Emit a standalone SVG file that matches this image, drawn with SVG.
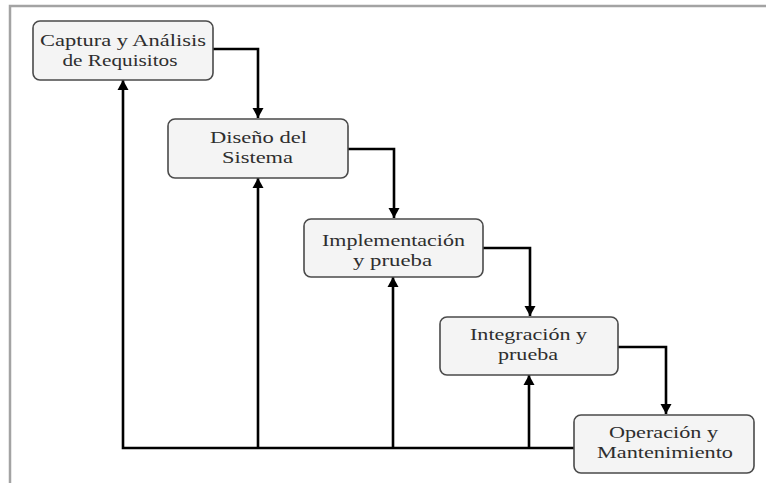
<svg xmlns="http://www.w3.org/2000/svg" width="766" height="483" viewBox="0 0 766 483">
  <style>
    .frame { stroke: #a3a3a3; stroke-width: 2.5; fill: none; }
    .box { fill: #f4f4f4; stroke: #4a4a4a; stroke-width: 1.6; }
    .lbl { font-family: "Liberation Serif", "Times New Roman", serif; font-size: 17px; fill: #2e2e2e; text-anchor: middle; }
    .edge { stroke: #000; stroke-width: 2.6; fill: none; }
  </style>
  <defs>
    <marker id="ah" viewBox="0 0 10 13" refX="10" refY="6.5" markerWidth="10" markerHeight="13" markerUnits="userSpaceOnUse" orient="auto">
      <path d="M0,1 L10,6.5 L0,12 Z" fill="#000"/>
    </marker>
  </defs>
  <rect width="766" height="483" fill="#fff"/>
  <path class="frame" d="M10,483 V6 H766"/>

  <g id="connectors">
    <!-- forward flow -->
    <path class="edge" d="M213,49 H258 V118" marker-end="url(#ah)"/>
    <path class="edge" d="M348,149 H394 V218" marker-end="url(#ah)"/>
    <path class="edge" d="M483,248 H530 V316" marker-end="url(#ah)"/>
    <path class="edge" d="M618,347 H666 V414" marker-end="url(#ah)"/>
    <!-- feedback from operation -->
    <path class="edge" d="M574,448 H123 V80" marker-end="url(#ah)"/>
    <path class="edge" d="M258,448 V178" marker-end="url(#ah)"/>
    <path class="edge" d="M393,448 V277" marker-end="url(#ah)"/>
    <path class="edge" d="M529,448 V375" stroke-width="2" marker-end="url(#ah)"/>
  </g>

  <g id="captura">
    <rect class="box" x="33" y="21" width="180" height="59" rx="7"/>
    <text class="lbl" x="123" y="46" textLength="166" lengthAdjust="spacingAndGlyphs">Captura y Análisis</text>
    <text class="lbl" x="120" y="66" textLength="115" lengthAdjust="spacingAndGlyphs">de Requisitos</text>
  </g>
  <g id="diseno">
    <rect class="box" x="168" y="119" width="180" height="59" rx="7"/>
    <text class="lbl" x="258.5" y="143" textLength="97" lengthAdjust="spacingAndGlyphs">Diseño del</text>
    <text class="lbl" x="257.5" y="163" textLength="71" lengthAdjust="spacingAndGlyphs">Sistema</text>
  </g>
  <g id="implementacion">
    <rect class="box" x="304" y="219" width="179" height="58" rx="7"/>
    <text class="lbl" x="393.5" y="246" textLength="143" lengthAdjust="spacingAndGlyphs">Implementación</text>
    <text class="lbl" x="392.5" y="266" textLength="79" lengthAdjust="spacingAndGlyphs">y prueba</text>
  </g>
  <g id="integracion">
    <rect class="box" x="440" y="317" width="178" height="58" rx="7"/>
    <text class="lbl" x="528.5" y="340" textLength="117" lengthAdjust="spacingAndGlyphs">Integración y</text>
    <text class="lbl" x="528" y="360" textLength="60" lengthAdjust="spacingAndGlyphs">prueba</text>
  </g>
  <g id="operacion">
    <rect class="box" x="574" y="415" width="180" height="58" rx="7"/>
    <text class="lbl" x="663.5" y="438" textLength="109" lengthAdjust="spacingAndGlyphs">Operación y</text>
    <text class="lbl" x="665" y="458" textLength="136" lengthAdjust="spacingAndGlyphs">Mantenimiento</text>
  </g>
</svg>
